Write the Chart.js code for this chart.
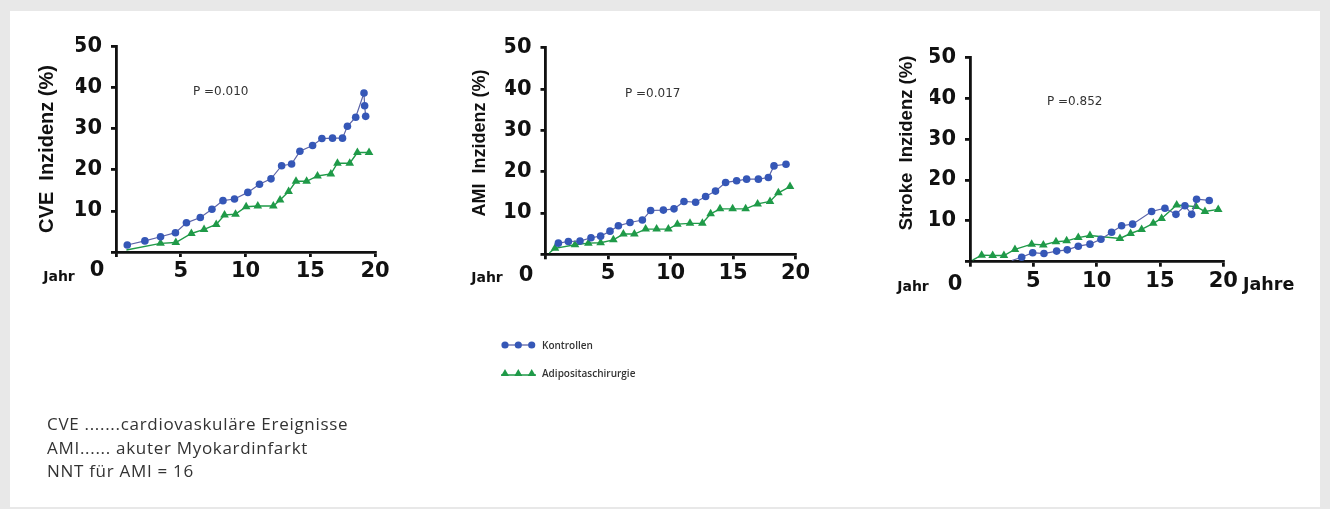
<!DOCTYPE html>
<html><head><meta charset="utf-8">
<script src="https://cdn.jsdelivr.net/npm/chart.js@4.4.1/dist/chart.umd.min.js"></script>
<style>
html,body{margin:0;padding:0;}
body{width:1330px;height:509px;background:#e8e8e8;position:relative;overflow:hidden;font-family:"Open Sans",sans-serif;}
#panel{position:absolute;left:10px;top:11px;width:1310px;height:496px;background:#fff;}
canvas{position:absolute;left:0;top:0;}
.leg{position:absolute;display:flex;align-items:center;font-family:"Open Sans",sans-serif;font-size:10px;font-weight:600;color:#333;}
.leg svg{margin-right:4px;}
.note{position:absolute;left:47px;top:412px;font-size:17px;letter-spacing:0.7px;line-height:23.5px;color:#333;white-space:nowrap;}
</style></head><body>
<div id="panel"></div>
<canvas id="c1" width="1330" height="509"></canvas>
<canvas id="c2" width="1330" height="509"></canvas>
<canvas id="c3" width="1330" height="509"></canvas>
<div class="leg" style="left:500px;top:337px;"><svg width="38" height="16"><line x1="3" y1="8" x2="34" y2="8" stroke="#5b63a8" stroke-width="1.3"/><circle cx="5" cy="8" r="3.6" fill="#3557b7"/><circle cx="18.3" cy="8" r="3.6" fill="#3557b7"/><circle cx="31.7" cy="8" r="3.6" fill="#3557b7"/></svg><span>Kontrollen</span></div>
<div class="leg" style="left:500px;top:365px;"><svg width="38" height="16"><line x1="1" y1="10" x2="36" y2="10" stroke="#1f9a48" stroke-width="1.3"/><polygon points="5,4 9,11 1,11" fill="#1f9a48"/><polygon points="18.3,4 22.3,11 14.3,11" fill="#1f9a48"/><polygon points="31.7,4 35.7,11 27.7,11" fill="#1f9a48"/></svg><span>Adipositaschirurgie</span></div>
<div class="note">CVE .......cardiovaskuläre Ereignisse<br>AMI...... akuter Myokardinfarkt<br>NNT für AMI = 16</div>
<script>
// ---- data ----
const xTickValues = [0, 5, 10, 15, 20];
const yTickValues = [0, 10, 20, 30, 40, 50];
const seriesNames = ['Kontrollen', 'Adipositaschirurgie'];

const cveKontrollenJahre = [0.87, 2.23, 3.44, 4.59, 5.44, 6.51, 7.41, 8.26, 9.15, 10.18, 11.08, 11.97, 12.79, 13.56, 14.2, 15.18, 15.9, 16.72, 17.49, 17.87, 18.51, 19.15, 19.2, 19.28];
const cveKontrollen      = [1.7, 2.7, 3.7, 4.7, 7.1, 8.4, 10.4, 12.5, 12.9, 14.5, 16.5, 17.8, 21.0, 21.4, 24.5, 25.9, 27.6, 27.7, 27.7, 30.6, 32.8, 38.7, 35.6, 33.0];
const cveChirurgieJahre  = [0.8, 3.44, 4.62, 5.82, 6.8, 7.74, 8.38, 9.23, 10.05, 10.95, 12.15, 12.67, 13.33, 13.9, 14.72, 15.56, 16.59, 17.1, 18.05, 18.64, 19.54];
const cveChirurgie       = [0.5, 2.1, 2.3, 4.5, 5.5, 6.7, 9.0, 9.2, 11.0, 11.2, 11.2, 12.65, 14.7, 17.2, 17.2, 18.5, 19.0, 21.6, 21.6, 24.2, 24.2];

const amiKontrollenJahre = [1.03, 1.83, 2.76, 3.64, 4.41, 5.16, 5.83, 6.76, 7.75, 8.41, 9.43, 10.28, 11.08, 12.01, 12.81, 13.6, 14.41, 15.29, 16.09, 17.03, 17.83, 18.28, 19.24];
const amiKontrollen      = [2.7, 3.1, 3.2, 4.0, 4.4, 5.6, 6.9, 7.7, 8.3, 10.6, 10.7, 11.0, 12.8, 12.6, 14.0, 15.3, 17.4, 17.8, 18.2, 18.2, 18.6, 21.4, 21.8];
const amiChirurgieJahre  = [0.3, 0.76, 2.36, 3.43, 4.41, 5.43, 6.23, 7.11, 8.01, 8.89, 9.83, 10.55, 11.56, 12.55, 13.21, 13.96, 14.97, 16.01, 16.97, 17.96, 18.63, 19.56];
const amiChirurgie       = [0.3, 1.45, 2.3, 2.7, 2.8, 3.5, 4.9, 4.9, 6.1, 6.1, 6.1, 7.3, 7.5, 7.5, 9.8, 11.0, 11.0, 11.0, 12.2, 12.8, 14.9, 16.4];

const strokeKontrollenJahre = [3.3, 4.08, 4.95, 5.84, 6.84, 7.68, 8.55, 9.47, 10.34, 11.18, 11.97, 12.84, 14.34, 15.39, 16.26, 16.97, 17.5, 17.89, 18.89];
const strokeKontrollen      = [0.3, 1.1, 2.2, 2.0, 2.6, 2.9, 3.8, 4.3, 5.5, 7.2, 8.8, 9.2, 12.3, 13.1, 11.6, 13.7, 11.6, 15.3, 15.0];
const strokeChirurgieJahre  = [0.2, 0.92, 1.79, 2.68, 3.55, 4.87, 5.79, 6.79, 7.63, 8.55, 9.47, 11.84, 12.68, 13.55, 14.47, 15.13, 16.32, 17.84, 18.55, 19.6];
const strokeChirurgie       = [0.4, 1.6, 1.5, 1.5, 3.0, 4.3, 4.1, 4.9, 5.1, 5.9, 6.4, 5.7, 6.9, 7.9, 9.4, 10.6, 13.9, 13.5, 12.3, 12.8];

// ---- styling ----
const BLUE = '#3557b7', BLUE_LINE = '#5b63a8', GREEN = '#1f9a48', AXIS = '#111';

const textPlugin = {
  id: 'texts',
  afterDraw(chart, args, opts) {
    const ctx = chart.ctx;
    (opts.items || []).forEach(it => {
      ctx.save();
      ctx.font = it.font;
      ctx.fillStyle = it.color || AXIS;
      ctx.textAlign = it.align || 'center';
      ctx.textBaseline = 'middle';
      ctx.translate(it.x, it.y);
      if (it.rot) ctx.rotate(it.rot);
      ctx.fillText(it.text, 0, 0);
      ctx.restore();
    });
  }
};

function pts(xs, ys) { return xs.map((x, i) => ({ x: x, y: ys[i] })); }

function makeChart(id, area, ctrl, surg, ctrlHideFirst, surgHideFirst, items) {
  const YW = 40, XH = 40;
  const tickFont = { family: 'DejaVu Sans', weight: 'bold', size: 21 };
  new Chart(document.getElementById(id), {
    type: 'line',
    data: {
      datasets: [
        { label: seriesNames[0], data: ctrl, borderColor: BLUE_LINE, borderWidth: 1.2,
          backgroundColor: BLUE, pointBackgroundColor: BLUE, pointBorderColor: BLUE, pointBorderWidth: 0,
          pointStyle: 'circle', pointRadius: c => (ctrlHideFirst && c.dataIndex === 0) ? 0 : 3.8, tension: 0, clip: false },
        { label: seriesNames[1], data: surg, borderColor: GREEN, borderWidth: 1.4,
          backgroundColor: GREEN, pointBackgroundColor: GREEN, pointBorderColor: GREEN, pointBorderWidth: 0,
          pointStyle: 'triangle', pointRadius: c => (surgHideFirst && c.dataIndex === 0) ? 0 : 5, tension: 0, clip: false }
      ]
    },
    options: {
      responsive: false, animation: false, devicePixelRatio: 1,
      layout: { padding: { left: area.left - YW, right: 1330 - area.right, top: area.top, bottom: 509 - area.bottom - XH } },
      plugins: { legend: { display: false }, tooltip: { enabled: false }, texts: { items: items } },
      scales: {
        x: {
          type: 'linear', min: 0, max: 20,
          afterBuildTicks: s => { s.ticks = xTickValues.map(v => ({ value: v })); },
          afterFit: s => { s.height = XH; },
          grid: { drawOnChartArea: false, drawTicks: true, tickLength: 5, color: AXIS, lineWidth: 2.8 },
          border: { color: AXIS, width: 2.8 },
          ticks: { font: tickFont, color: AXIS, padding: 2, maxRotation: 0, autoSkip: false,
                   callback: v => v === 0 ? '' : String(v) }
        },
        y: {
          type: 'linear', min: 0, max: 50,
          afterBuildTicks: s => { s.ticks = yTickValues.map(v => ({ value: v })); },
          afterFit: s => { s.width = YW; },
          grid: { drawOnChartArea: false, drawTicks: true, tickLength: 5, color: AXIS, lineWidth: 2.8 },
          border: { color: AXIS, width: 2.8 },
          ticks: { font: tickFont, color: AXIS, padding: 9, callback: v => v === 0 ? '' : String(v) }
        }
      }
    },
    plugins: [textPlugin]
  });
}

const R = -Math.PI / 2;
makeChart('c1', { left: 116, right: 375, top: 46.5, bottom: 252 },
  pts(cveKontrollenJahre, cveKontrollen), pts(cveChirurgieJahre, cveChirurgie), false, true, [
  { text: 'CVE  Inzidenz (%)', x: 47, y: 149, rot: R, font: 'bold 20px "Liberation Sans"' },
  { text: 'P =0.010', x: 193, y: 92, align: 'left', font: '12px "DejaVu Sans"', color: '#333' },
  { text: 'Jahr', x: 59, y: 277, font: 'bold 14px "DejaVu Sans"' },
  { text: '0', x: 97, y: 271, font: 'bold 21px "DejaVu Sans"' }
]);
makeChart('c2', { left: 545.5, right: 795.5, top: 47.8, bottom: 254.3 },
  pts(amiKontrollenJahre, amiKontrollen), pts(amiChirurgieJahre, amiChirurgie), false, true, [
  { text: 'AMI  Inzidenz (%)', x: 480, y: 143, rot: R, font: 'bold 18px "Liberation Sans"' },
  { text: 'P =0.017', x: 625, y: 93.5, align: 'left', font: '12px "DejaVu Sans"', color: '#333' },
  { text: 'Jahr', x: 487, y: 278, font: 'bold 14px "DejaVu Sans"' },
  { text: '0', x: 526, y: 276, font: 'bold 21px "DejaVu Sans"' }
]);
makeChart('c3', { left: 970, right: 1223.3, top: 57.5, bottom: 261.7 },
  pts(strokeKontrollenJahre, strokeKontrollen), pts(strokeChirurgieJahre, strokeChirurgie), true, true, [
  { text: 'Stroke  Inzidenz (%)', x: 907, y: 143, rot: R, font: 'bold 18.5px "Liberation Sans"' },
  { text: 'P =0.852', x: 1047, y: 101.5, align: 'left', font: '12px "DejaVu Sans"', color: '#333' },
  { text: 'Jahr', x: 913, y: 287, font: 'bold 14px "DejaVu Sans"' },
  { text: '0', x: 955, y: 285, font: 'bold 21px "DejaVu Sans"' },
  { text: 'Jahre', x: 1243, y: 285, align: 'left', font: 'bold 17.5px "DejaVu Sans"' }
]);
</script>
</body></html>
